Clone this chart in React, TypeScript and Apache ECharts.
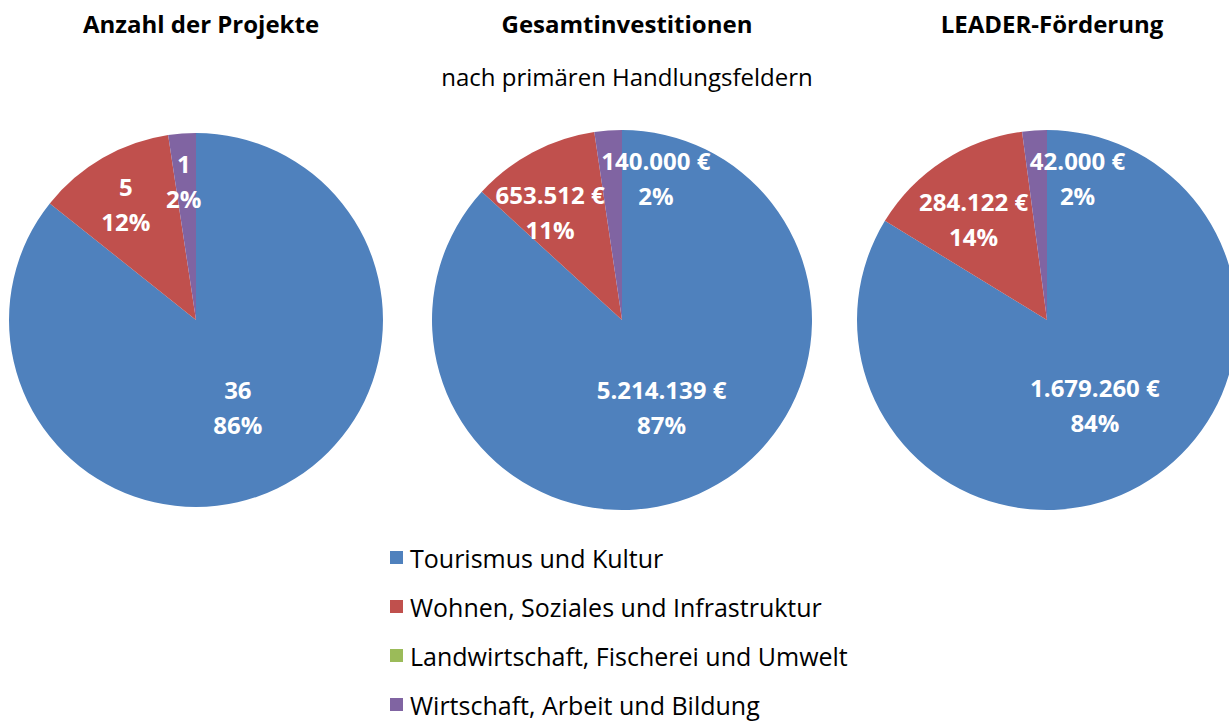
import React, { useEffect, useRef } from "react";
import * as echarts from "echarts";

const categories = [
  "Tourismus und Kultur",
  "Wohnen, Soziales und Infrastruktur",
  "Landwirtschaft, Fischerei und Umwelt",
  "Wirtschaft, Arbeit und Bildung",
];
const colors = ["#4F81BD", "#C0504D", "#9BBB59", "#8064A2"];
const chartTitles = ["Anzahl der Projekte", "Gesamtinvestitionen", "LEADER-Förderung"];
const subtitle = "nach primären Handlungsfeldern";
const projectCounts = [36, 5, 0, 1];
const investments = [5214139, 653512, 0, 140000];
const funding = [1679260, 284122, 0, 42000];

const FONT = "'Open Sans', sans-serif";

function fmtDe(v: number): string {
  return String(Math.round(v)).replace(/\B(?=(\d{3})+(?!\d))/g, ".");
}

// label offsets (styling) per pie, per category
const labelOffsets = [
  [[0, 0], [-22, -32], [0, 0], [-5, -43]],
  [[0, -3], [-26, -21], [0, 0], [41, -44]],
  [[0, 0], [-20, -19], [0, 0], [37, -44]],
];
const centersX = [196, 622, 1047];
const radii = [187, 190, 190];

export default function App() {
  const ref = useRef<HTMLDivElement>(null);
  useEffect(() => {
    if (!ref.current) return;
    const chart = echarts.init(ref.current, undefined, { renderer: "svg" });
    const datasets = [projectCounts, investments, funding];
    const series = datasets.map((vals, si) => ({
      type: "pie",
      name: chartTitles[si],
      center: [centersX[si], 320],
      radius: radii[si],
      startAngle: 90,
      clockwise: true,
      percentPrecision: 0,
      avoidLabelOverlap: false,
      labelLayout: { hideOverlap: false },
      labelLine: { show: false },
      emphasis: { disabled: true },
      itemStyle: { borderWidth: 0 },
      label: {
        show: true,
        position: "inside",
        color: "#fff",
        fontFamily: FONT,
        fontWeight: "bold",
        fontSize: 24,
        lineHeight: 35,
        formatter: (p: any) =>
          si === 0
            ? `${fmtDe(p.value)}\n${p.percent}%`
            : `${fmtDe(p.value)} €\n${p.percent}%`,
      },
      data: vals.map((v, i) => ({
        name: categories[i],
        value: v,
        itemStyle: { color: colors[i] },
        label: v === 0 ? { show: false } : { offset: labelOffsets[si][i] },
      })),
    }));

    chart.setOption({
      animation: false,
      title: [
        ...chartTitles.map((t, i) => ({
          text: t,
          left: centersX[i],
          top: 6,
          textAlign: "center",
          textStyle: { fontFamily: FONT, fontWeight: "bold", fontSize: 24, color: "#000" },
        })),
        {
          text: subtitle,
          left: 622,
          top: 59,
          textAlign: "center",
          textStyle: { fontFamily: FONT, fontWeight: "normal", fontSize: 24, color: "#000" },
        },
      ],
      legend: {
        orient: "vertical",
        left: 385,
        top: 538,
        height: 300,
        itemWidth: 13,
        itemHeight: 13,
        itemGap: 20,
        icon: "rect",
        selectedMode: false,
        data: categories.map((c, i) => ({ name: c, itemStyle: { color: colors[i] } })),
        textStyle: {
          fontFamily: FONT,
          fontSize: 25,
          lineHeight: 29,
          color: "#000",
          padding: [0, 0, 0, 2],
        },
      },
      series,
    });
    return () => chart.dispose();
  }, []);
  return <div ref={ref} style={{ width: 1229, height: 724, position: "absolute", left: 0, top: 0 }} />;
}
